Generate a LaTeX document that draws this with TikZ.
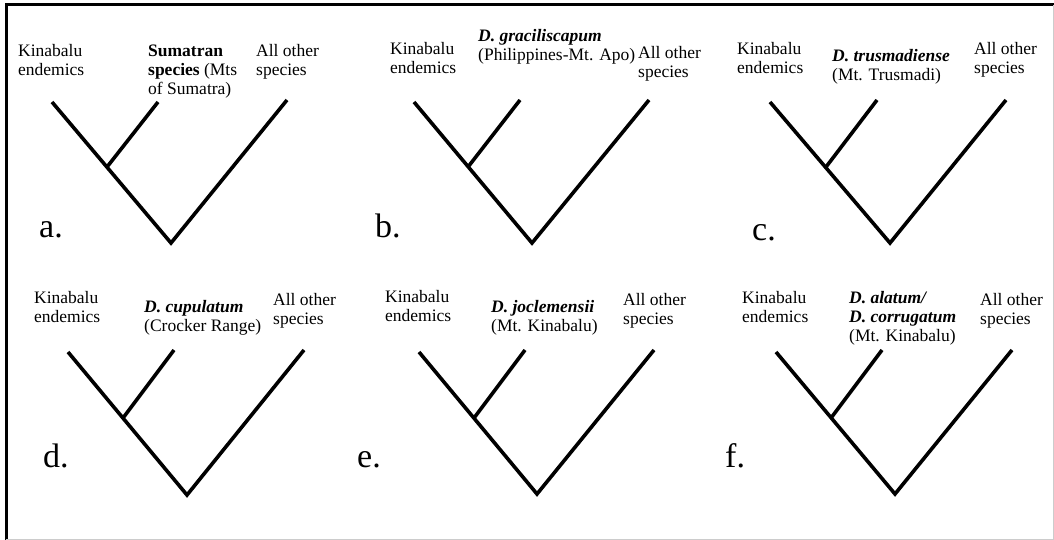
\documentclass[tikz,border=0pt]{standalone}
\usepackage{fontspec}
\setmainfont{Liberation Serif}
\begin{document}
\begin{tikzpicture}[x=1pt,y=-1pt,
    branch/.style={line width=3.6pt},
    lab/.style={inner sep=0pt,anchor=base west,align=left,font=\fontsize{17.5}{19}\selectfont},
    panel/.style={inner sep=0pt,anchor=base west,font=\fontsize{34}{36}\selectfont}]
    \useasboundingbox (0,0) rectangle (1054,540);
    % frame
    \draw[line width=3pt] (6,540) -- (6,5) -- (1054,5);
    \draw[gray!40,line width=1pt] (6,539.5) -- (1053.5,539.5) -- (1053.5,5);

    % Panel a
    \coordinate (aR) at (171,243);
    \coordinate (aK) at (52,102);
    \coordinate (aJ) at (107,167);
    \coordinate (aS) at (158,102);
    \coordinate (aO) at (287,100);
    \draw[branch] (aK) -- (aR) -- (aO);
    \draw[branch] (aJ) -- (aS);
    \node[lab] (aKl) at (18,76) {Kinabalu\\endemics};
    \node[lab] (aSl) at (148,95) {\textbf{Sumatran}\\\textbf{species} (Mts\\of Sumatra)};
    \node[lab] (aOl) at (256,76) {All other\\species};
    \node[panel] (a) at (39,237) {a.};

    % Panel b
    \coordinate (bR) at (532,243);
    \coordinate (bK) at (414,102);
    \coordinate (bJ) at (468,167);
    \coordinate (bS) at (520,100);
    \coordinate (bO) at (649,100);
    \draw[branch] (bK) -- (bR) -- (bO);
    \draw[branch] (bJ) -- (bS);
    \node[lab] (bKl) at (390,74) {Kinabalu\\endemics};
    \node[lab] (bSl) at (478,61) {\textbf{\textit{D. graciliscapum}}\\(Philippines-Mt. Apo)};
    \node[lab] (bOl) at (638,78) {All other\\species};
    \node[panel] (b) at (375,237) {b.};

    % Panel c
    \coordinate (cR) at (890,243);
    \coordinate (cK) at (770,102);
    \coordinate (cJ) at (826,167);
    \coordinate (cS) at (877,100);
    \coordinate (cO) at (1006,100);
    \draw[branch] (cK) -- (cR) -- (cO);
    \draw[branch] (cJ) -- (cS);
    \node[lab] (cKl) at (737,74) {Kinabalu\\endemics};
    \node[lab] (cSl) at (832,81) {\textbf{\textit{D. trusmadiense}}\\(Mt. Trusmadi)};
    \node[lab] (cOl) at (974,74) {All other\\species};
    \node[panel] (c) at (752,240) {c.};

    % Panel d
    \coordinate (dR) at (187,495);
    \coordinate (dK) at (68,352);
    \coordinate (dJ) at (123,418);
    \coordinate (dS) at (174,350);
    \coordinate (dO) at (304,350);
    \draw[branch] (dK) -- (dR) -- (dO);
    \draw[branch] (dJ) -- (dS);
    \node[lab] (dKl) at (34,322) {Kinabalu\\endemics};
    \node[lab] (dSl) at (144,331) {\textbf{\textit{D. cupulatum}}\\(Crocker Range)};
    \node[lab] (dOl) at (273,324) {All other\\species};
    \node[panel] (d) at (43,467) {d.};

    % Panel e
    \coordinate (eR) at (537,494);
    \coordinate (eK) at (419,352);
    \coordinate (eJ) at (474,418);
    \coordinate (eS) at (525,350);
    \coordinate (eO) at (654,350);
    \draw[branch] (eK) -- (eR) -- (eO);
    \draw[branch] (eJ) -- (eS);
    \node[lab] (eKl) at (385,321) {Kinabalu\\endemics};
    \node[lab] (eSl) at (491,331) {\textbf{\textit{D. joclemensii}}\\(Mt. Kinabalu)};
    \node[lab] (eOl) at (623,324) {All other\\species};
    \node[panel] (e) at (357,467) {e.};

    % Panel f
    \coordinate (fR) at (895,494);
    \coordinate (fK) at (776,352);
    \coordinate (fJ) at (831,418);
    \coordinate (fS) at (882,350);
    \coordinate (fO) at (1012,350);
    \draw[branch] (fK) -- (fR) -- (fO);
    \draw[branch] (fJ) -- (fS);
    \node[lab] (fKl) at (742,322) {Kinabalu\\endemics};
    \node[lab] (fSl) at (849,341) {\textbf{\textit{D. alatum/}}\\\textbf{\textit{D. corrugatum}}\\(Mt. Kinabalu)};
    \node[lab] (fOl) at (980,324) {All other\\species};
    \node[panel] (f) at (725,467) {f.};
\end{tikzpicture}
\end{document}
